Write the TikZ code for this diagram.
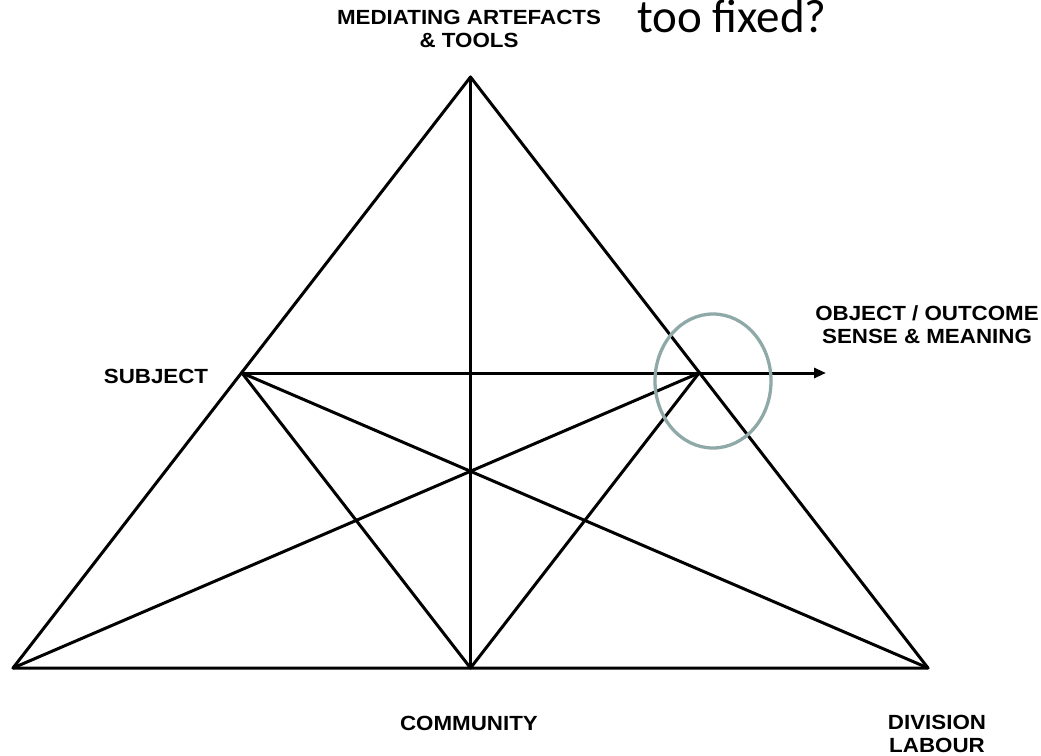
\documentclass[tikz,border=0pt]{standalone}
\usepackage{fontspec}
\setmainfont{Liberation Sans}[FakeStretch=1.09]
\newfontfamily\calibfont{Carlito}
\usetikzlibrary{arrows.meta,shapes.geometric}
\definecolor{ringcol}{RGB}{143,168,168}
\tikzset{
  edge/.style={line width=3pt, line cap=round, line join=round},
  lbl/.style={font=\fontsize{20.5pt}{23pt}\selectfont\bfseries, align=center, inner sep=0pt},
  ring/.style={draw=ringcol, line width=3.3pt},
}
\begin{document}
\begin{tikzpicture}[x=1pt,y=-1pt]
\useasboundingbox (0,0) rectangle (1041,755);
% vertices
\coordinate (apex) at (470.5,77);
\coordinate (bl) at (13,668);
\coordinate (br) at (928,668);
\coordinate (bm) at (470.5,668);
\coordinate (subj) at (242,373);
\coordinate (obj) at (699,373);
\coordinate (tip) at (826,373);
% triangle and inner lines
\draw[edge] (apex) -- (bl) -- (br) -- cycle;
\draw[edge] (apex) -- (bm);
\draw[edge] (subj) -- (obj);
\draw[edge] (subj) -- (br);
\draw[edge] (subj) -- (bm);
\draw[edge] (obj) -- (bl);
\draw[edge] (obj) -- (bm);
\draw[edge, -{Triangle[length=12pt,width=10pt]}] (obj) -- (tip);
% ring
\node[ring, ellipse, minimum width=116pt, minimum height=134pt, inner sep=0pt] (circ) at (713,381) {};
% labels
\node[lbl] (med) at (469,29) {MEDIATING ARTEFACTS\\\& TOOLS};
\node[lbl] (subjl) at (156,376) {SUBJECT};
\node[lbl] (objl) at (927,325) {OBJECT / OUTCOME\\SENSE \& MEANING};
\node[lbl] (comm) at (469,723) {COMMUNITY};
\node[lbl] (div) at (937,734) {DIVISION\\LABOUR};
\node[anchor=base west, inner sep=0pt, font=\calibfont\fontsize{47pt}{52pt}\selectfont] (fixed) at (637,32) {too fixed?};
\end{tikzpicture}
\end{document}
